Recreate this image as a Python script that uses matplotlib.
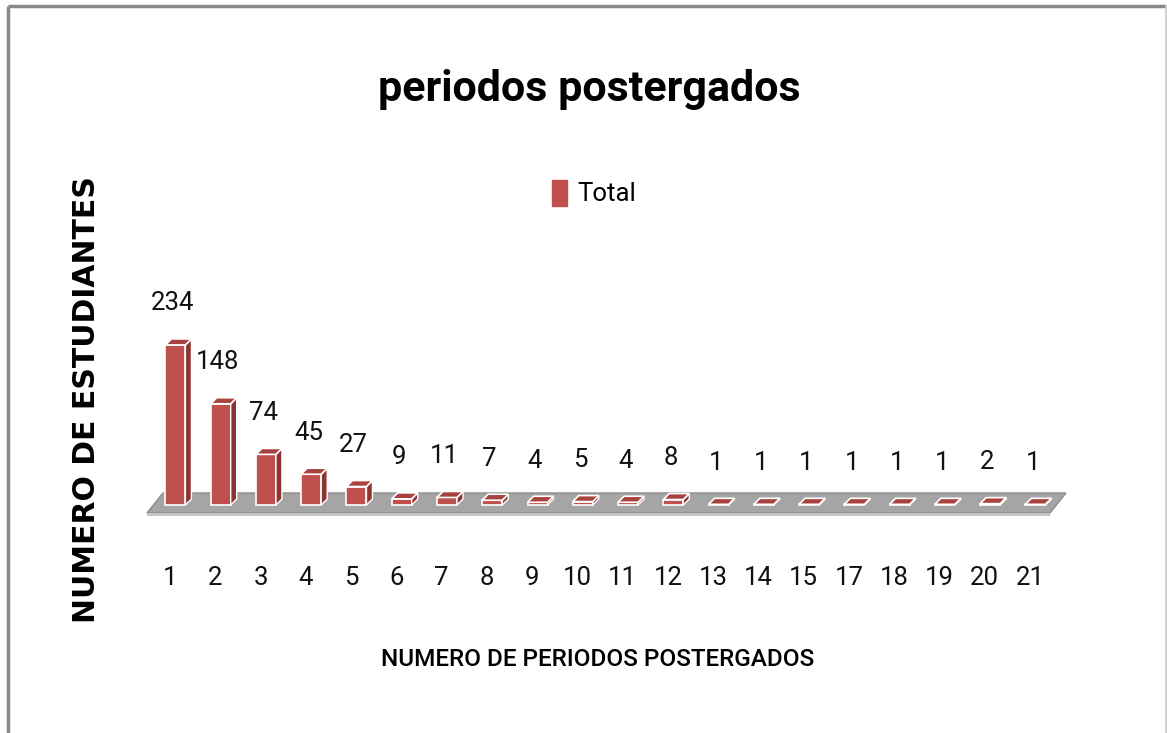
import numpy as np
import matplotlib.pyplot as plt
from matplotlib.patches import Polygon

# datos
categorias = ['1', '2', '3', '4', '5', '6', '7', '8', '9', '10', '11', '12',
              '13', '14', '15', '17', '18', '19', '20', '21']
total = [234, 148, 74, 45, 27, 9, 11, 7, 4, 5, 4, 8, 1, 1, 1, 1, 1, 1, 2, 1]

W, H = 1167, 733
fig = plt.figure(figsize=(W / 100, H / 100), dpi=100)
ax = fig.add_axes([0, 0, 1, 1])
ax.axis('off')

# pixel scale of the fake 3D plot area
sx = 45.26   # px per category
sy = 0.684   # px per student
x0_px, base_px = 170, 505
ax.set_xlim(-x0_px / sx, (W - x0_px) / sx)
ax.set_ylim((base_px - H) / sy, base_px / sy)

def px(dx, dy):
    # pixel offset -> data offset (dy up is positive)
    return dx / sx, dy / sy

narrow = ['DejaVu Sans Condensed', 'Roboto', 'DejaVu Sans']
x = np.arange(len(categorias))

# floor
fx, fy = px(16, 20)
fl, fr = (147 - x0_px) / sx, (1050 - x0_px) / sx
ffront = (base_px - 513) / sy
floor = Polygon([(fl, ffront), (fr, ffront), (fr + fx, ffront + fy), (fl + fx, ffront + fy)],
                closed=True, facecolor='#a5a5a5', edgecolor='#8c8c8c', lw=1, zorder=1)
ax.add_patch(floor)
th = 3 / sy
ax.add_patch(Polygon([(fl, ffront), (fr, ffront), (fr, ffront - th), (fl, ffront - th)],
                     closed=True, facecolor='#c4c4c4', edgecolor='none', zorder=1))

# bars
bw = 20 / sx
dx, dy = px(6, 6)
front = '#c0504d'
side = '#8c3431'
top = '#a8423f'
for xi, v in zip(x, total):
    xl = xi + 0.12 - bw / 2
    xr = xl + bw
    ax.bar(xl, v, width=bw, align='edge', color=front, edgecolor='white', lw=1.2, zorder=3)
    ax.add_patch(Polygon([(xr, 0), (xr + dx, dy), (xr + dx, v + dy), (xr, v)],
                         closed=True, facecolor=side, edgecolor='white', lw=1.0, zorder=3))
    ax.add_patch(Polygon([(xl, v), (xr, v), (xr + dx, v + dy), (xl + dx, v + dy)],
                         closed=True, facecolor=top, edgecolor='white', lw=1.2, zorder=4))
    ax.annotate(str(v), (xi + 0.06, v), xytext=(0, 30), textcoords='offset points',
                ha='center', va='center', fontsize=18.5, family=narrow, color='#111111')

# category labels
for xi, c in zip(x, categorias):
    ax.text(xi, (base_px - 578) / sy, c, ha='center', va='center',
            fontsize=18.5, family=narrow, color='#111111')

# texts
fig.text(589 / W, 1 - 90 / H, 'periodos postergados', ha='center', va='center',
         fontsize=31, fontweight='bold', family=narrow, color='black')
fig.text(598 / W, 1 - 660 / H, 'NUMERO DE PERIODOS POSTERGADOS', ha='center', va='center',
         fontsize=17.5, fontweight='medium', family=narrow, color='black')
fig.text(87 / W, 1 - 400 / H, 'NUMERO DE ESTUDIANTES', ha='center', va='center',
         rotation=90, fontsize=21.5, fontweight='bold', family='DejaVu Sans', color='black')

# legend
leg = fig.legend(handles=[plt.Rectangle((0, 0), 1, 1, color=front)], labels=['Total'],
                 loc='center', bbox_to_anchor=(594 / W, 1 - 193 / H), frameon=False,
                 handlelength=0.6, handleheight=1.2, handletextpad=0.4,
                 prop={'family': narrow, 'size': 18.5})

# chart border
ax.plot([(8 - x0_px) / sx] * 2, [(base_px - H) / sy, (base_px - 6.5) / sy],
        color='#888888', lw=2.5, solid_capstyle='butt', zorder=5)
ax.plot([(8 - x0_px) / sx, (1166 - x0_px) / sx], [(base_px - 6.5) / sy] * 2,
        color='#888888', lw=2.5, solid_capstyle='butt', zorder=5)
ax.plot([(1166 - x0_px) / sx] * 2, [(base_px - H) / sy, (base_px - 6.5) / sy],
        color='#c8c8c8', lw=1.2, zorder=5)

plt.savefig('out.png', dpi=100)
plt.close()
